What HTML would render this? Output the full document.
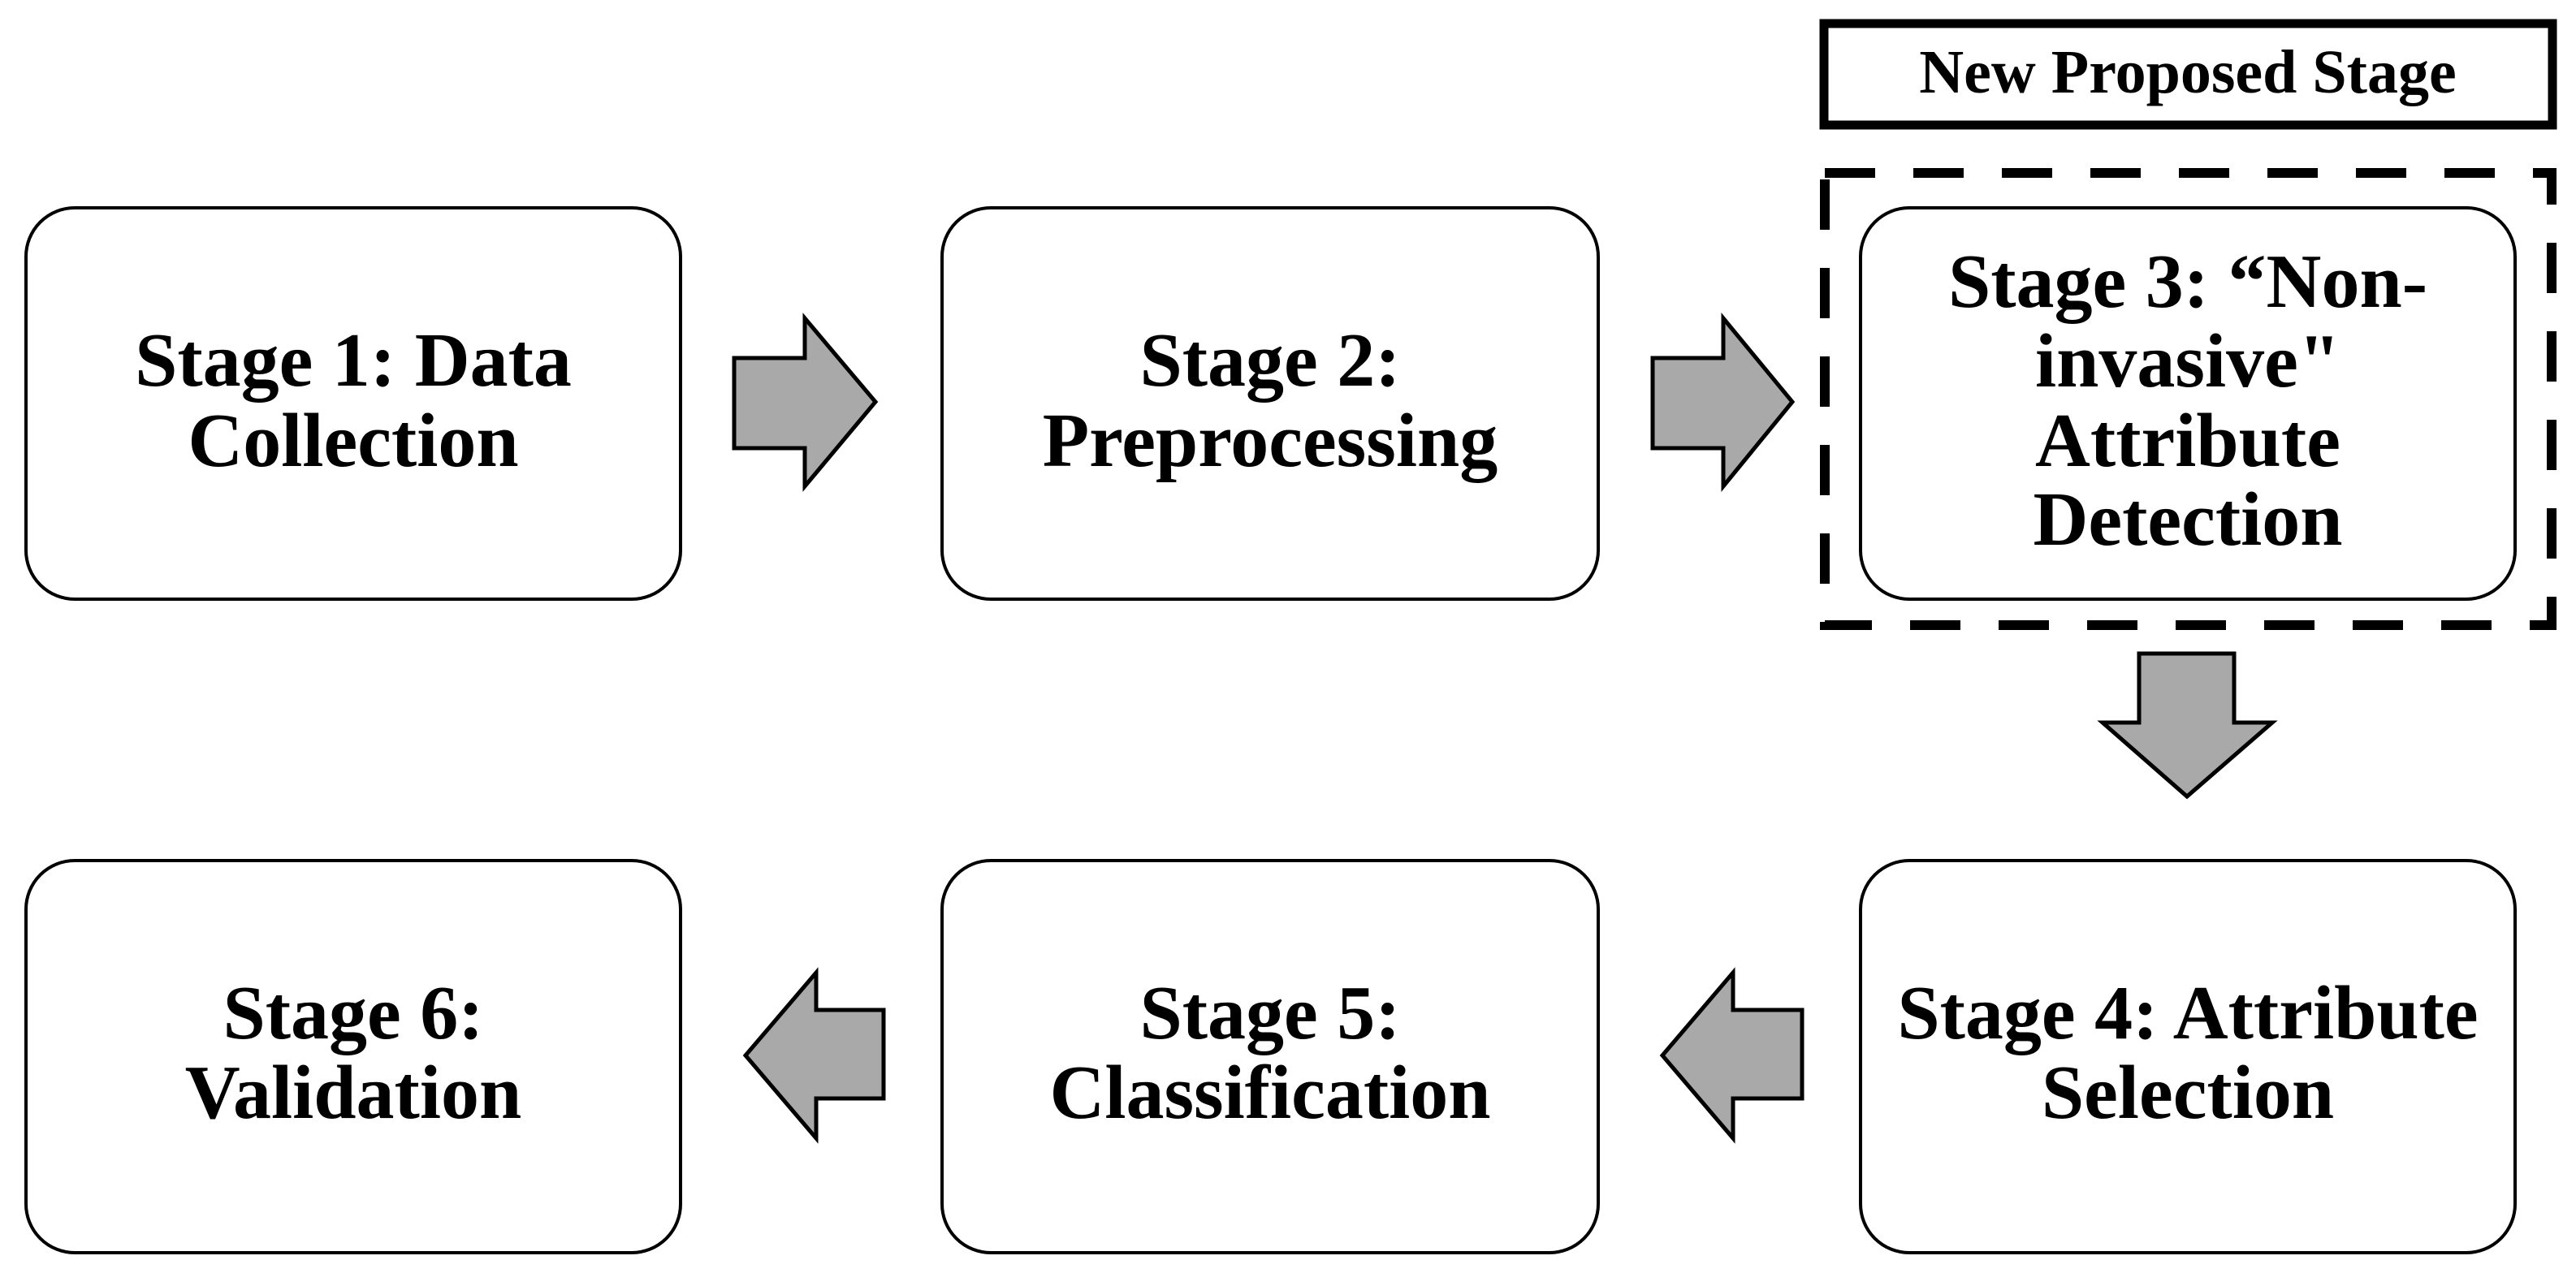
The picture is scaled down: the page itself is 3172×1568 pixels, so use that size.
<!DOCTYPE html>
<html><head><style>
html,body{margin:0;padding:0;background:#fff;}
svg{display:block;}
text{font-family:"Liberation Serif",serif;font-weight:bold;fill:#000;text-anchor:middle;}
</style></head><body>
<svg width="3172" height="1568" viewBox="0 0 3172 1568" xmlns="http://www.w3.org/2000/svg">
<g fill="#fff" stroke="#000" stroke-width="4">
<rect x="32" y="256" width="806" height="482" rx="60"/>
<rect x="1160" y="256" width="808" height="482" rx="60"/>
<rect x="2291" y="256" width="806" height="482" rx="60"/>
<rect x="32" y="1060" width="806" height="483" rx="60"/>
<rect x="1160" y="1060" width="808" height="483" rx="60"/>
<rect x="2291" y="1060" width="806" height="483" rx="60"/>
</g>
<rect x="2246" y="29" width="897" height="125" fill="#fff" stroke="#000" stroke-width="11"/>
<rect x="2247" y="213" width="895" height="557" fill="none" stroke="#000" stroke-width="12" stroke-dasharray="62 47"/>
<g fill="#a9a9a9" stroke="#000" stroke-width="5" stroke-linejoin="miter">
<polygon points="904,441 991,441 991,392 1078,495 991,599 991,552 904,552"/>
<polygon points="2035,441 2122,441 2122,392 2207,495 2122,599 2122,552 2035,552"/>
<polygon points="2634,805 2751,805 2751,890 2798,890 2693,981 2589,890 2634,890"/>
<polygon points="1088,1244 1005,1244 1005,1198 918,1300 1005,1402 1005,1353 1088,1353"/>
<polygon points="2219,1244 2134,1244 2134,1198 2047,1300 2134,1402 2134,1353 2219,1353"/>
</g>
<text x="2694" y="114" font-size="76">New Proposed Stage</text>
<g font-size="94">
<text x="435" y="475">Stage 1: Data</text>
<text x="435" y="574">Collection</text>
<text x="1564" y="475">Stage 2:</text>
<text x="1564" y="574">Preprocessing</text>
<text x="2694" y="378">Stage 3: “Non-</text>
<text x="2694" y="476">invasive"</text>
<text x="2694" y="574">Attribute</text>
<text x="2694" y="671">Detection</text>
<text x="435" y="1279">Stage 6:</text>
<text x="435" y="1377">Validation</text>
<text x="1564" y="1279">Stage 5:</text>
<text x="1564" y="1377">Classification</text>
<text x="2694" y="1279">Stage 4: Attribute</text>
<text x="2694" y="1377">Selection</text>
</g>
</svg>
</body></html>
